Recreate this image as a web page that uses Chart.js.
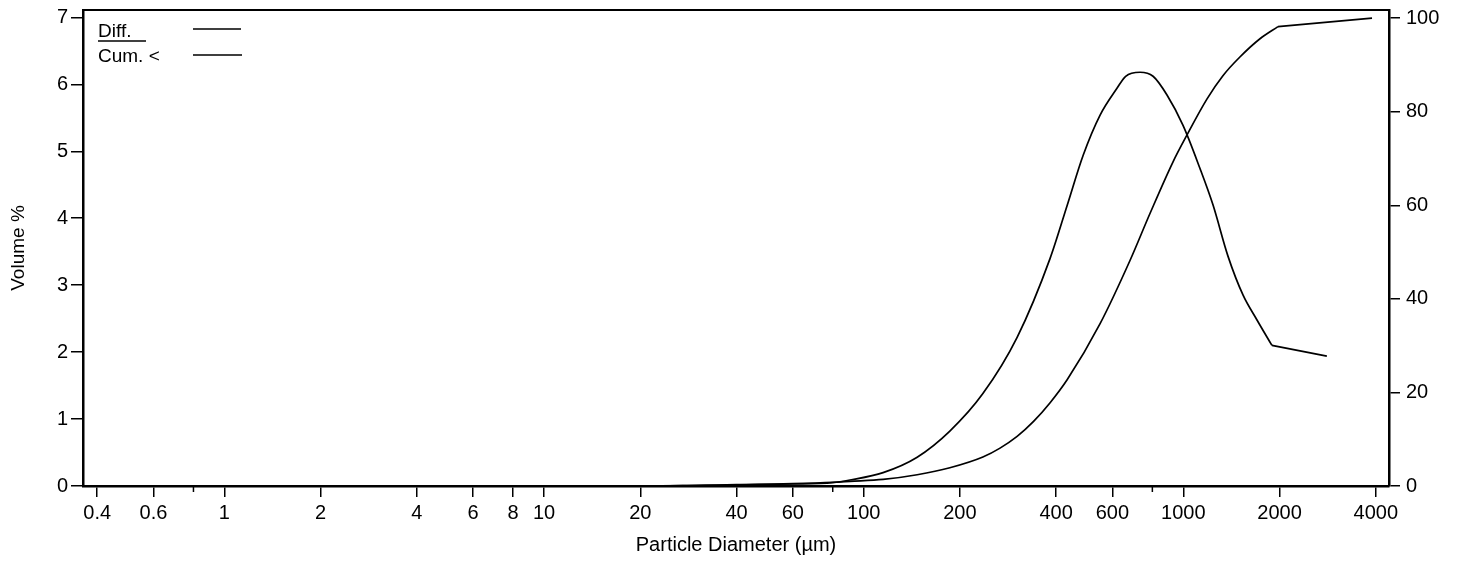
<!DOCTYPE html>
<html>
<head>
<meta charset="utf-8">
<script src="https://cdn.jsdelivr.net/npm/chart.js@4.4.1/dist/chart.umd.min.js"></script>
<style>
  body { margin: 0; background: #fff; }
  #wrap { width: 1457px; height: 562px; }
</style>
</head>
<body>
<div id="wrap"><canvas id="sizeChart" width="1457" height="562"></canvas></div>
<script>
// Particle diameter (µm) and values
const diffSizes = [0.375, 1, 10, 20, 30, 40, 60, 80, 90.6, 115, 147, 186, 236, 302, 383, 433, 486, 549, 620, 660, 732, 804, 889, 997, 1126, 1238, 1380, 1538, 1700, 1893, 2812];
const diffValues = [0, 0, 0, 0, 0.01, 0.02, 0.03, 0.05, 0.09, 0.20, 0.43, 0.82, 1.38, 2.22, 3.40, 4.19, 4.94, 5.54, 5.94, 6.12, 6.18, 6.12, 5.84, 5.39, 4.75, 4.20, 3.43, 2.85, 2.48, 2.10, 1.94];

const cumSizes = [0.375, 1, 10, 20, 30, 40, 60, 80, 90.6, 115, 147, 186, 236, 267, 302, 340, 383, 433, 549, 681, 787, 927, 1026, 1185, 1330, 1503, 1737, 1977, 3893];
const cumValues = [0, 0, 0, 0, 0.1, 0.2, 0.5, 0.8, 1.0, 1.4, 2.4, 3.9, 6.2, 8.1, 10.6, 13.8, 17.8, 22.7, 34.7, 48.2, 58.3, 69.2, 75.0, 82.7, 87.7, 91.7, 95.6, 98.2, 100];

const xTicks = [0.4, 0.6, 1, 2, 4, 6, 8, 10, 20, 40, 60, 100, 200, 400, 600, 1000, 2000, 4000];
const xMinorTicks = [0.8, 80, 800];
const volumeTicks = [0, 1, 2, 3, 4, 5, 6, 7];
const cumTicks = [0, 20, 40, 60, 80, 100];
const legendLabels = ['Diff.', 'Cum. <'];

Chart.defaults.font.family = "'Liberation Sans', Arial, sans-serif";
Chart.defaults.color = '#000';

// the measured curve is smooth, the last class (above 2000 µm) is a straight segment
function toPoints(sizes, values, from, to) {
    return sizes.slice(from, to).map((s, i) => ({ x: s, y: values[from + i] }));
}

function curve(points, axis, smooth) {
    return {
        data: points,
        yAxisID: axis,
        borderColor: '#000',
        borderWidth: 1.7,
        pointRadius: 0,
        fill: false,
        cubicInterpolationMode: smooth ? 'monotone' : 'default',
        tension: 0
    };
}

// frame top, short minor ticks and the little legend box
const extras = {
    id: 'extras',
    afterDraw(chart) {
        const ctx = chart.ctx;
        const area = chart.chartArea;
        const x = chart.scales.x;
        ctx.save();
        ctx.strokeStyle = '#000';
        ctx.lineWidth = 2;
        ctx.beginPath();
        ctx.moveTo(area.left, area.top);
        ctx.lineTo(area.right, area.top);
        ctx.stroke();

        ctx.lineWidth = 1.5;
        xMinorTicks.forEach(v => {
            const px = x.getPixelForValue(v);
            ctx.beginPath();
            ctx.moveTo(px, area.bottom);
            ctx.lineTo(px, area.bottom + 6);
            ctx.stroke();
        });

        // legend
        ctx.fillStyle = '#000';
        ctx.font = "19px 'Liberation Sans', Arial, sans-serif";
        ctx.textBaseline = 'alphabetic';
        ctx.textAlign = 'left';
        const lx = area.left + 15;
        ctx.fillText(legendLabels[0], lx, area.top + 27);
        ctx.fillText(legendLabels[1], lx, area.top + 52);
        ctx.lineWidth = 1.5;
        ctx.beginPath();
        ctx.moveTo(lx, area.top + 31);
        ctx.lineTo(lx + 48, area.top + 31);
        ctx.stroke();
        ctx.beginPath();
        ctx.moveTo(lx + 95, area.top + 19);
        ctx.lineTo(lx + 143, area.top + 19);
        ctx.moveTo(lx + 95, area.top + 45);
        ctx.lineTo(lx + 144, area.top + 45);
        ctx.stroke();
        ctx.restore();
    }
};

const tickFont = { size: 20 };
const nd = diffSizes.length;
const nc = cumSizes.length;

new Chart(document.getElementById('sizeChart'), {
    type: 'line',
    data: {
        datasets: [
            curve(toPoints(diffSizes, diffValues, 0, nd - 1), 'y', true),
            curve(toPoints(diffSizes, diffValues, nd - 2, nd), 'y', false),
            curve(toPoints(cumSizes, cumValues, 0, nc - 1), 'y1', true),
            curve(toPoints(cumSizes, cumValues, nc - 2, nc), 'y1', false)
        ]
    },
    options: {
        responsive: false,
        animation: false,
        devicePixelRatio: 1,
        layout: { padding: { top: 10, left: 0, right: 0, bottom: 0 } },
        plugins: {
            legend: { display: false },
            tooltip: { enabled: false }
        },
        scales: {
            x: {
                type: 'logarithmic',
                min: 0.361,
                max: 4400,
                afterBuildTicks: scale => { scale.ticks = xTicks.map(v => ({ value: v })); },
                afterFit: scale => { scale.height = 76; scale.paddingLeft = 0; scale.paddingRight = 0; },
                ticks: {
                    font: tickFont,
                    padding: 4,
                    maxRotation: 0,
                    autoSkip: false,
                    callback: v => String(v)
                },
                grid: { drawOnChartArea: false, drawTicks: true, tickLength: 11, color: '#000', lineWidth: 1.5 },
                border: { display: true, color: '#000', width: 2.5 },
                title: {
                    display: true,
                    text: 'Particle Diameter (µm)',
                    font: { size: 20 },
                    padding: { top: 0, bottom: 5 }
                }
            },
            y: {
                position: 'left',
                min: 0,
                max: 7.11,
                afterBuildTicks: scale => { scale.ticks = volumeTicks.map(v => ({ value: v })); },
                afterFit: scale => { scale.width = 83; scale.paddingTop = 0; scale.paddingBottom = 0; },
                ticks: { font: tickFont, padding: 3 },
                grid: { drawOnChartArea: false, drawTicks: true, tickLength: 12, color: '#000', lineWidth: 1.5 },
                border: { display: true, color: '#000', width: 2.5 },
                title: {
                    display: true,
                    text: 'Volume %',
                    font: { size: 19 },
                    padding: { top: 7, bottom: 0 }
                }
            },
            y1: {
                position: 'right',
                min: 0,
                max: 101.75,
                afterBuildTicks: scale => { scale.ticks = cumTicks.map(v => ({ value: v })); },
                afterFit: scale => { scale.width = 68; scale.paddingTop = 0; scale.paddingBottom = 0; },
                ticks: { font: tickFont, padding: 6 },
                grid: { drawOnChartArea: false, drawTicks: true, tickLength: 11, color: '#000', lineWidth: 1.5 },
                border: { display: true, color: '#000', width: 2.5 }
            }
        }
    },
    plugins: [extras]
});
</script>
</body>
</html>
